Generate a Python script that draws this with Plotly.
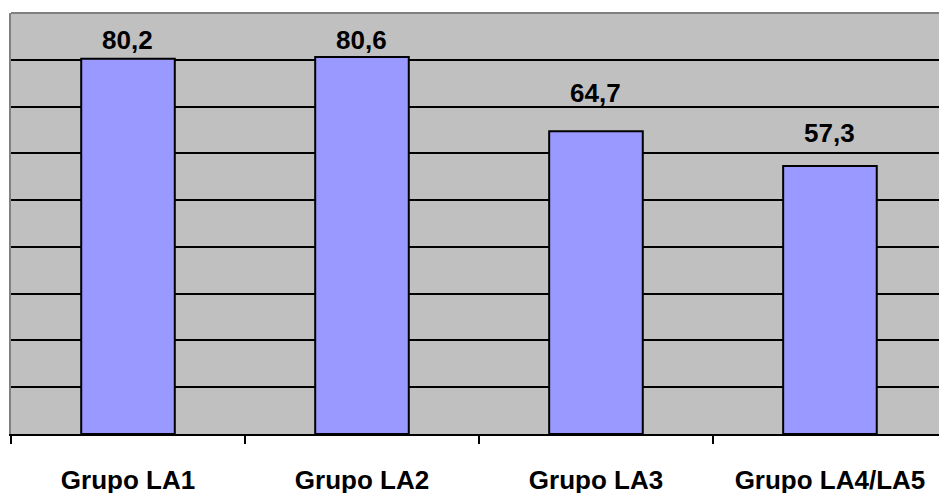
import plotly.graph_objects as go

categories = ["Grupo LA1", "Grupo LA2", "Grupo LA3", "Grupo LA4/LA5"]
values = [80.2, 80.6, 64.7, 57.3]
# label lift above each bar top, in pixels (style, as placed in the original)
label_lift_px = [2, 0, 21, 16]
y_max = 90
y_step = 10

fig = go.Figure(
    go.Bar(
        x=categories,
        y=values,
        marker=dict(color="#9999FF", line=dict(color="black", width=2)),
        width=0.4,
        hoverinfo="skip",
    )
)

for cat, val, lift in zip(categories, values, label_lift_px):
    fig.add_annotation(
        x=cat,
        y=val,
        text=f"{val:.1f}".replace(".", ","),
        showarrow=False,
        yanchor="bottom",
        yshift=lift,
        font=dict(family="Liberation Sans, Arial", size=26, color="black", weight="bold"),
    )

fig.update_layout(
    width=939,
    height=493,
    paper_bgcolor="white",
    plot_bgcolor="#C0C0C0",
    margin=dict(l=11, r=0, t=13, b=59, autoexpand=False),
    showlegend=False,
    font=dict(family="Liberation Sans, Arial", color="black"),
    xaxis=dict(
        range=[-0.5, 3.466],
        showline=True,
        linecolor="black",
        linewidth=2,
        ticks="outside",
        tickson="boundaries",
        ticklen=8,
        tickwidth=2,
        tickcolor="black",
        tickfont=dict(size=26, color="black", weight="bold"),
        ticklabelstandoff=22,
        showgrid=False,
        zeroline=False,
        automargin=False,
    ),
    yaxis=dict(
        range=[0, y_max],
        dtick=y_step,
        showticklabels=False,
        showgrid=True,
        gridcolor="black",
        gridwidth=2,
        zeroline=False,
        showline=True,
        linecolor="#808080",
        linewidth=2,
        ticks="",
        automargin=False,
    ),
    shapes=[
        dict(type="line", xref="paper", yref="paper", x0=0, x1=1, y0=1, y1=1,
             line=dict(color="#808080", width=2)),
    ],
)

fig.write_html(
    "out.html",
    config={"displayModeBar": False},
    post_script="document.body.style.margin='0';document.body.style.overflow='hidden';",
)
